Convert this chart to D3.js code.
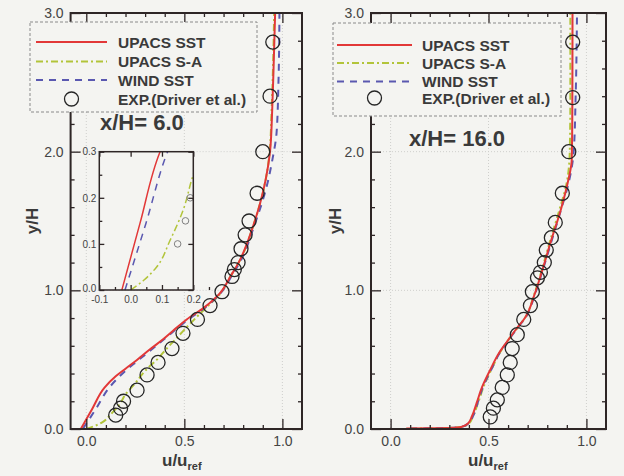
<!DOCTYPE html>
<meta charset="utf-8">
<style>
body { margin: 0; background: #f4f4f1; }
svg { display: block; font-family: Arial, "Liberation Sans", sans-serif; }
.tick text { fill: #444; }
</style>
<svg width="624" height="476"></svg>
<script src="https://d3js.org/d3.v7.min.js"></script>
<script>

// series names, in legend order
var seriesNames = ["UPACS SST", "UPACS S-A", "WIND SST", "EXP.(Driver et al.)"];

// x/H = 6.0  (points are [u/uref, y/H])
var sst6 = [[-0.028,0],[0.03,0.145],[0.094,0.3],[0.15,0.38],[0.2,0.435],[0.26,0.5],[0.325,0.575],[0.39,0.645],
  [0.444,0.71],[0.512,0.79],[0.6,0.875],[0.682,0.98],[0.735,1.1],[0.784,1.22],[0.82,1.34],[0.85,1.46],
  [0.885,1.62],[0.915,1.8],[0.937,2.0],[0.948,2.3],[0.955,2.6],[0.963,3.0]];
var sa6 = [[0.0,0],[0.04,0.02],[0.083,0.05],[0.126,0.108],[0.168,0.174],[0.2,0.25],[0.25,0.33],[0.3,0.42],
  [0.36,0.5],[0.41,0.58],[0.47,0.67],[0.53,0.76],[0.6,0.86],[0.68,0.97],[0.735,1.1],[0.785,1.22],
  [0.85,1.46],[0.915,1.8],[0.935,2.0],[0.945,2.3],[0.952,2.6],[0.958,3.0]];
var wind6 = [[-0.018,0],[0.049,0.145],[0.118,0.3],[0.2,0.42],[0.26,0.49],[0.33,0.57],[0.45,0.71],[0.52,0.79],
  [0.605,0.875],[0.685,0.98],[0.74,1.1],[0.79,1.22],[0.855,1.46],[0.92,1.75],[0.95,1.95],[0.97,2.13],
  [0.98,2.5],[0.985,3.0]];
var exp6 = [[0.15,0.10],[0.175,0.15],[0.19,0.20],[0.259,0.28],[0.31,0.39],[0.366,0.48],[0.437,0.58],
  [0.493,0.69],[0.567,0.79],[0.631,0.89],[0.692,0.99],[0.743,1.10],[0.755,1.15],[0.774,1.20],[0.789,1.30],
  [0.81,1.40],[0.83,1.50],[0.871,1.70],[0.90,2.0],[0.937,2.40],[0.951,2.79]];

// x/H = 16.0
var sst16 = [[0.08,0.003],[0.2,0.005],[0.3,0.008],[0.36,0.015],[0.395,0.04],[0.415,0.09],[0.44,0.19],
  [0.468,0.305],[0.51,0.43],[0.553,0.546],[0.6,0.64],[0.638,0.714],[0.69,0.81],[0.735,0.97],[0.775,1.146],
  [0.82,1.36],[0.869,1.58],[0.905,1.78],[0.925,1.94],[0.928,2.3],[0.929,3.0]];
var sa16 = [[0.1,0.003],[0.2,0.005],[0.3,0.008],[0.365,0.015],[0.4,0.04],[0.42,0.09],[0.447,0.19],
  [0.475,0.305],[0.515,0.43],[0.556,0.546],[0.6,0.64],[0.64,0.714],[0.69,0.81],[0.733,0.97],[0.772,1.146],
  [0.815,1.36],[0.862,1.58],[0.9,1.78],[0.915,2.0],[0.918,2.4],[0.918,3.0]];
var wind16 = [[0.1,0.003],[0.2,0.005],[0.3,0.008],[0.362,0.015],[0.398,0.04],[0.42,0.09],[0.445,0.19],
  [0.472,0.305],[0.515,0.43],[0.556,0.546],[0.602,0.64],[0.64,0.714],[0.692,0.81],[0.737,0.97],[0.777,1.146],
  [0.823,1.36],[0.87,1.58],[0.91,1.78],[0.935,2.0],[0.945,2.4],[0.952,3.0]];
var exp16 = [[0.509,0.087],[0.525,0.15],[0.545,0.21],[0.57,0.30],[0.596,0.39],[0.611,0.48],[0.621,0.58],
  [0.647,0.68],[0.68,0.79],[0.714,0.89],[0.724,0.99],[0.75,1.09],[0.765,1.13],[0.785,1.20],[0.795,1.29],
  [0.821,1.38],[0.841,1.49],[0.877,1.70],[0.91,2.0],[0.93,2.39],[0.93,2.79]];

// ticks
var xMajor = [0, 0.5, 1.0];
var xMinor = [-0.1, 0.1, 0.2, 0.3, 0.4, 0.6, 0.7, 0.8, 0.9, 1.1];
var yMajor = [0, 1, 2, 3];
var yMinor = [0.2, 0.4, 0.6, 0.8, 1.2, 1.4, 1.6, 1.8, 2.2, 2.4, 2.6, 2.8];
var insetXTicks = [-0.1, 0.0, 0.1, 0.2];
var insetYTicks = [0.0, 0.1, 0.2, 0.3];
var insetMinor = [-0.05, 0.05, 0.15, 0.25];

var colors = { sst: "#e23838", sa: "#b2c43a", wind: "#5a58b0", frame: "#2e2626", text: "#3a3a3a" };

var svg = d3.select("svg");
svg.append("rect").attr("width", 624).attr("height", 476).attr("fill", "#f4f4f1");
var defs = svg.append("defs");

var fmt = d3.format(".1f");

function drawCurves(g, x, y, sets, clipId) {
  var line = d3.line()
      .x(function(d) { return x(d[0]); })
      .y(function(d) { return y(d[1]); })
      .curve(d3.curveMonotoneY);
  var cg = g.append("g").attr("clip-path", "url(#" + clipId + ")");
  cg.append("path").datum(sets.sa).attr("d", line).attr("fill", "none")
    .attr("stroke", colors.sa).attr("stroke-width", sets.w).attr("stroke-dasharray", "7,3,2,3");
  cg.append("path").datum(sets.wind).attr("d", line).attr("fill", "none")
    .attr("stroke", colors.wind).attr("stroke-width", sets.w).attr("stroke-dasharray", "7,6");
  cg.append("path").datum(sets.sst).attr("d", line).attr("fill", "none")
    .attr("stroke", colors.sst).attr("stroke-width", sets.w);
  cg.selectAll("circle.exp").data(sets.exp).join("circle").attr("class", "exp")
    .attr("cx", function(d) { return x(d[0]); })
    .attr("cy", function(d) { return y(d[1]); })
    .attr("r", sets.r).attr("fill", "none")
    .attr("stroke", sets.cStroke).attr("stroke-width", sets.cw);
}

function tickAxis(g, axis, transform, vals, size, labels, pad, fontSize) {
  var a = g.append("g").attr("transform", transform)
    .call(axis.tickValues(vals).tickSize(size).tickPadding(pad)
      .tickFormat(labels ? function(d) { return d < 0 ? "-" + fmt(-d) : fmt(d); } : ""));
  a.select(".domain").remove();
  a.selectAll("line").attr("stroke", colors.frame).attr("stroke-width", 1.3);
  a.selectAll("text").attr("font-size", fontSize).attr("fill", "#444");
  return a;
}

function drawPanel(p) {
  var x = d3.scaleLinear().domain(p.xDomain).range(p.xRange);
  var y = d3.scaleLinear().domain([0, 3]).range([429, 13]);
  var g = svg.append("g");
  var clipId = "clip" + p.id;
  defs.append("clipPath").attr("id", clipId).append("rect")
    .attr("x", x.range()[0]).attr("y", 13)
    .attr("width", x.range()[1] - x.range()[0]).attr("height", 416);

  // faint grid
  g.selectAll("line.gx").data(xMajor).join("line")
    .attr("x1", x).attr("x2", x).attr("y1", y(3)).attr("y2", y(0))
    .attr("stroke", "#cfcfcc").attr("stroke-dasharray", "1,2");
  g.selectAll("line.gy").data([1, 2]).join("line")
    .attr("y1", y).attr("y2", y).attr("x1", x.range()[0]).attr("x2", x.range()[1])
    .attr("stroke", "#cfcfcc").attr("stroke-dasharray", "1,2");

  drawCurves(g, x, y, { sst: p.sst, sa: p.sa, wind: p.wind, exp: p.exp, w: 2,
    r: 7, cStroke: "#262626", cw: 1.3 }, clipId);

  // ticks, all pointing inwards
  var minorX = xMinor.filter(function(v) { return v > p.xDomain[0] && v < p.xDomain[1]; });
  tickAxis(g, d3.axisBottom(x), "translate(0," + y(0) + ")", xMajor, -10, true, 7, 14);
  tickAxis(g, d3.axisBottom(x), "translate(0," + y(0) + ")", minorX, -4, false, 0, 14);
  tickAxis(g, d3.axisTop(x), "translate(0," + y(3) + ")", xMajor, -10, false, 0, 14);
  tickAxis(g, d3.axisTop(x), "translate(0," + y(3) + ")", minorX, -4, false, 0, 14);
  tickAxis(g, d3.axisLeft(y), "translate(" + x.range()[0] + ",0)", yMajor, -10, true, 7, 14);
  tickAxis(g, d3.axisLeft(y), "translate(" + x.range()[0] + ",0)", yMinor, -4, false, 0, 14);
  tickAxis(g, d3.axisRight(y), "translate(" + x.range()[1] + ",0)", yMajor, -10, false, 0, 14);
  tickAxis(g, d3.axisRight(y), "translate(" + x.range()[1] + ",0)", yMinor, -4, false, 0, 14);

  g.append("rect")
    .attr("x", x.range()[0]).attr("y", 13)
    .attr("width", x.range()[1] - x.range()[0]).attr("height", 416)
    .attr("fill", "none").attr("stroke", colors.frame).attr("stroke-width", 2);

  // axis titles
  g.append("text")
    .attr("transform", "translate(" + p.yTitleX + ",221) rotate(-90)")
    .attr("text-anchor", "middle").attr("font-size", 17).attr("font-weight", "bold")
    .attr("fill", colors.text).text("y/H");
  var xt = g.append("text").attr("x", p.xTitleX).attr("y", 466)
    .attr("font-size", 17).attr("font-weight", "bold").attr("fill", colors.text);
  xt.append("tspan").text("u/u");
  xt.append("tspan").attr("dy", 4).attr("font-size", 11).text("ref");

  // legend
  var L = p.legend;
  var lg = g.append("g");
  lg.append("rect").attr("x", L.x).attr("y", L.y).attr("width", L.w).attr("height", L.h)
    .attr("fill", "#f4f4f1").attr("stroke", "#8a8a8a").attr("stroke-dasharray", "3,2");
  var styles = [
    { c: colors.sst, dash: null },
    { c: colors.sa, dash: "7,3,2,3" },
    { c: colors.wind, dash: "7,6" },
    null
  ];
  seriesNames.forEach(function(name, i) {
    var ry = L.rows[i];
    if (styles[i]) {
      lg.append("line").attr("x1", L.lx0).attr("x2", L.lx1).attr("y1", ry).attr("y2", ry)
        .attr("stroke", styles[i].c).attr("stroke-width", 2)
        .attr("stroke-dasharray", styles[i].dash);
    } else {
      lg.append("circle").attr("cx", (L.lx0 + L.lx1) / 2).attr("cy", ry).attr("r", 7)
        .attr("fill", "none").attr("stroke", "#262626").attr("stroke-width", 1.3);
    }
    lg.append("text").attr("x", L.tx).attr("y", ry).attr("dy", "0.36em")
      .attr("font-size", 15.5).attr("font-weight", "bold").attr("fill", colors.text).text(name);
  });

  g.append("text").attr("x", p.title.x).attr("y", p.title.y)
    .attr("font-size", 22).attr("font-weight", "bold").attr("fill", colors.text).text(p.title.t);

  return { x: x, y: y, g: g };
}

drawPanel({
  id: "L", xDomain: [-0.08, 1.1], xRange: [70.6, 302],
  sst: sst6, sa: sa6, wind: wind6, exp: exp6,
  yTitleX: 38, xTitleX: 162,
  legend: { x: 30, y: 22, w: 227, h: 90, rows: [42, 61.5, 80, 99], lx0: 36, lx1: 107, tx: 118 },
  title: { x: 100, y: 130, t: "x/H= 6.0" }
});

drawPanel({
  id: "R", xDomain: [-0.1, 1.1], xRange: [371, 606],
  sst: sst16, sa: sa16, wind: wind16, exp: exp16,
  yTitleX: 341, xTitleX: 468,
  legend: { x: 333, y: 23, w: 228, h: 93, rows: [45, 63, 81.5, 98], lx0: 337, lx1: 412, tx: 422 },
  title: { x: 409, y: 146, t: "x/H= 16.0" }
});

// inset for x/H = 6.0 near the wall
(function() {
  var ix = d3.scaleLinear().domain([-0.1, 0.2]).range([99.3, 193.3]);
  var iy = d3.scaleLinear().domain([0, 0.3]).range([290, 151.7]);
  var g = svg.append("g");
  defs.append("clipPath").attr("id", "clipI").append("rect")
    .attr("x", 99.3).attr("y", 151.7).attr("width", 94).attr("height", 138.3);
  g.append("rect").attr("x", 99.3).attr("y", 151.7).attr("width", 94).attr("height", 138.3)
    .attr("fill", "#f4f4f1");
  drawCurves(g, ix, iy, { sst: sst6, sa: sa6, wind: wind6, exp: exp6, w: 1.5,
    r: 3.3, cStroke: "#808080", cw: 1 }, "clipI");
  tickAxis(g, d3.axisBottom(ix), "translate(0,290)", insetXTicks, -5, true, 6, 10);
  tickAxis(g, d3.axisBottom(ix), "translate(0,290)", insetMinor, -3, false, 0, 10);
  tickAxis(g, d3.axisTop(ix), "translate(0,151.7)", insetXTicks, -5, false, 0, 10);
  tickAxis(g, d3.axisLeft(iy), "translate(99.3,0)", insetYTicks, -5, true, 3, 10)
    .selectAll("text").attr("dy", function(d) { return d === 0 ? "0.1em" : "0.32em"; });
  tickAxis(g, d3.axisLeft(iy), "translate(99.3,0)", [0.05, 0.15, 0.25], -3, false, 0, 10);
  tickAxis(g, d3.axisRight(iy), "translate(193.3,0)", insetYTicks, -5, false, 0, 10);
  g.append("rect").attr("x", 99.3).attr("y", 151.7).attr("width", 94).attr("height", 138.3)
    .attr("fill", "none").attr("stroke", colors.frame).attr("stroke-width", 1.5);
})();

</script>
